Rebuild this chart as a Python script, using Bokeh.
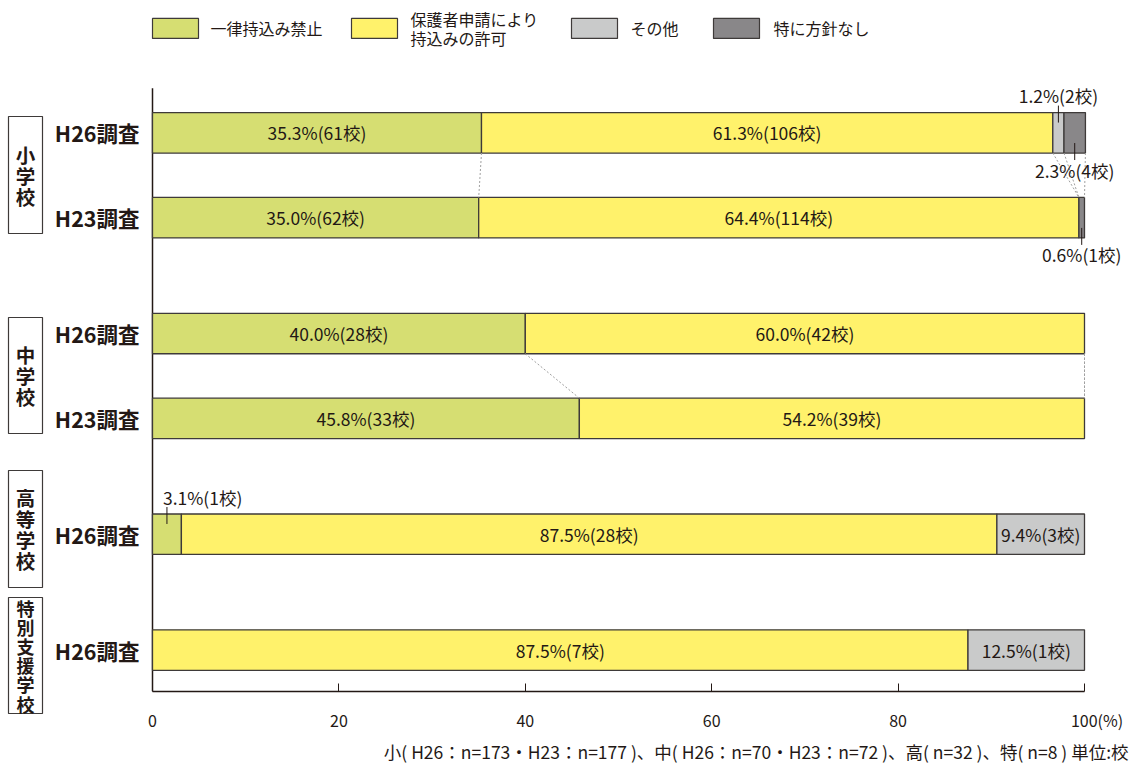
from bokeh.plotting import figure
from bokeh.layouts import row
from bokeh.models import Range1d, FixedTicker, ColumnDataSource, Title
from bokeh.core.properties import value
from bokeh.embed import file_html
from bokeh.resources import INLINE

# ---------------- data ----------------
series_names = ["一律持込み禁止", "保護者申請により\n持込みの許可", "その他", "特に方針なし"]
groups = ["小学校", "中学校", "高等学校", "特別支援学校"]
surveys = ["H26調査", "H23調査", "H26調査", "H23調査", "H26調査", "H26調査"]
row_group = [0, 0, 1, 1, 2, 3]

ban_pct = [35.3, 35.0, 40.0, 45.8, 3.1, 0.0]
permit_pct = [61.3, 64.4, 60.0, 54.2, 87.5, 87.5]
other_pct = [1.2, 0.0, 0.0, 0.0, 9.4, 12.5]
none_pct = [2.3, 0.6, 0.0, 0.0, 0.0, 0.0]

ban_n = [61, 62, 28, 33, 1, 0]
permit_n = [106, 114, 42, 39, 28, 7]
other_n = [2, 0, 0, 0, 3, 1]
none_n = [4, 1, 0, 0, 0, 0]

x_ticks = [0, 20, 40, 60, 80, 100]
x_unit = "(%)"
footnote = "小( H26：n=173・H23：n=177 )、中( H26：n=70・H23：n=72 )、高( n=32 )、特( n=8 ) 単位:校"

# ---------------- style / layout ----------------
FONT = "Noto Sans CJK JP"
INK = "#231815"
EDGE = "#3e3a39"
colors = ["#d6de72", "#fff26b", "#c9caca", "#898789"]

W, H = 1132, 765
LW = 45                         # width of the left strip holding the school-type boxes
L, T, B = 152, 88, 692          # axis origin / top of axis line / x-axis line (pixels)
X100 = 1084                     # pixel of 100 %
PXU = (X100 - L) / 100.0


def px(xp):
    return (xp - L) / PXU


# row centres (pixel == data y thanks to the flipped y range)
row_y = []
y = 132.5
for i in range(len(surveys)):
    if i > 0:
        y += 85.0 if row_group[i] == row_group[i - 1] else 116.0
    row_y.append(y)
BAR_H = 40.5
LABEL_FS = "17.5px"

# ---------- left strip: school-type boxes ----------
pg = figure(width=LW, height=H, x_range=Range1d(0, LW), y_range=Range1d(H, 0),
            min_border=0, output_backend="svg", toolbar_location=None, title=None)
pg.axis.visible = False
pg.grid.visible = False
pg.outline_line_color = None
pg.background_fill_color = "white"
pg.border_fill_color = "white"

gboxes = [(116, 233), (317, 433), (470, 587), (597, 713)]
pg.quad(left=[8] * 4, right=[42] * 4, top=[b[0] for b in gboxes],
        bottom=[b[1] for b in gboxes], fill_color="white", line_color=EDGE, line_width=1.2)
gc = dict(x=[], y=[], text=[], fs=[])
for g, (top, bot) in enumerate(gboxes):
    chars = list(groups[g])
    step = 21.0 if len(chars) <= 4 else 19.2
    fs = "19.5px" if len(chars) <= 4 else "18px"
    c = (top + bot) / 2
    for j, ch in enumerate(chars):
        gc["x"].append(25)
        gc["y"].append(c + (j - (len(chars) - 1) / 2) * step)
        gc["text"].append(ch)
        gc["fs"].append(fs)
pg.text(x="x", y="y", text="text", text_font_size="fs", source=ColumnDataSource(gc),
        text_font=value(FONT), text_font_style="bold", text_color=INK,
        text_align="center", text_baseline="middle")

# ---------- main chart ----------
p = figure(width=W - LW, height=H, x_range=Range1d(px(LW), px(W)), y_range=Range1d(B, 0),
           min_border_left=0, min_border_right=0, min_border_top=0,
           min_border_bottom=H - B, output_backend="svg", toolbar_location=None,
           title=None)
p.outline_line_color = None
p.xgrid.visible = False
p.ygrid.visible = False
p.yaxis.visible = False
p.background_fill_color = "white"
p.border_fill_color = "white"

# keep each plot's own frame (do not align frames across the row)
for f in (pg, p):
    if "frame_align" in f.properties():
        f.frame_align = False

xa = p.xaxis[0]
xa.bounds = (0, 100)
xa.ticker = FixedTicker(ticks=x_ticks)
xa.major_label_overrides = {100: "\u00a0" * 7 + "100" + x_unit}
xa.major_tick_in = 8
xa.major_tick_out = 0
xa.minor_tick_line_color = None
xa.axis_line_color = INK
xa.axis_line_width = 1.5
xa.major_tick_line_color = INK
xa.major_tick_line_width = 1
xa.major_label_text_font = FONT
xa.major_label_text_font_size = "16px"
xa.major_label_text_color = INK
xa.major_label_standoff = 16

# vertical axis line
p.segment(x0=[0], y0=[T], x1=[0], y1=[B], line_color=INK, line_width=1.5)

# row labels
p.text(x=[px(139)] * len(surveys), y=row_y, text=surveys, text_font=value(FONT),
       text_font_size=value("21.5px"), text_font_style="bold", text_color=INK,
       text_align="right", text_baseline="middle")

# stacked bars
pcts = [ban_pct, permit_pct, other_pct, none_pct]
counts = [ban_n, permit_n, other_n, none_n]
cum = [0.0] * len(surveys)
bounds = [[0.0] * len(surveys)]
inside = dict(x=[], y=[], text=[])
outside = []
for s in range(4):
    d = dict(y=[], left=[], right=[])
    for i in range(len(surveys)):
        v = pcts[s][i]
        left, right = cum[i], cum[i] + v
        if v > 0:
            d["y"].append(row_y[i])
            d["left"].append(left)
            d["right"].append(right)
            txt = f"{v:.1f}%({counts[s][i]}校)"
            if v >= 5:
                inside["x"].append((left + right) / 2)
                inside["y"].append(row_y[i])
                inside["text"].append(txt)
            else:
                outside.append((s, i, (left + right) / 2, txt))
        cum[i] = right
    bounds.append(list(cum))
    p.hbar(y="y", left="left", right="right", height=BAR_H, fill_color=colors[s],
           line_color=EDGE, line_width=1.3, source=ColumnDataSource(d))

p.text(x="x", y="y", text="text", source=ColumnDataSource(inside),
       text_font=value(FONT), text_font_size=value(LABEL_FS), text_color=INK,
       text_align="center", text_baseline="middle")

# dotted connectors between H26 and H23 of the same school type
cx0, cy0, cx1, cy1 = [], [], [], []
for i in range(len(surveys) - 1):
    if row_group[i] == row_group[i + 1]:
        for k in range(1, 5):
            cx0.append(bounds[k][i]); cy0.append(row_y[i] + BAR_H / 2)
            cx1.append(bounds[k][i + 1]); cy1.append(row_y[i + 1] - BAR_H / 2)
p.segment(x0=cx0, y0=cy0, x1=cx1, y1=cy1, line_color="#a0a0a0", line_width=1,
          line_dash="2 2")

# small-segment labels with leader lines
lx, ly0, ly1 = [], [], []
oc = dict(x=[], y=[], text=[])
ol = dict(x=[], y=[], text=[])
for s, i, xm, txt in outside:
    if s == 3:
        edge = row_y[i] + BAR_H / 2
        ly0.append(edge - 10); ly1.append(edge + 7)
        ty = edge + 17
    else:
        edge = row_y[i] - BAR_H / 2
        ly0.append(edge + 10); ly1.append(edge - 7)
        ty = edge - 17
    lx.append(xm)
    if xm < 5:
        ol["x"].append(xm - 4 / PXU); ol["y"].append(ty); ol["text"].append(txt)
    else:
        oc["x"].append(xm); oc["y"].append(ty); oc["text"].append(txt)
p.segment(x0=lx, y0=ly0, x1=lx, y1=ly1, line_color=INK, line_width=1)
p.text(x="x", y="y", text="text", source=ColumnDataSource(oc), text_font=value(FONT),
       text_font_size=value(LABEL_FS), text_color=INK, text_align="center",
       text_baseline="middle")
p.text(x="x", y="y", text="text", source=ColumnDataSource(ol), text_font=value(FONT),
       text_font_size=value(LABEL_FS), text_color=INK, text_align="left",
       text_baseline="middle")

# legend
leg_boxes = [152, 351, 571, 713]
leg_text_x = [210, 410, 630, 773]
p.quad(left=[px(v) for v in leg_boxes], right=[px(v + 46) for v in leg_boxes],
       top=[18] * 4, bottom=[38] * 4, fill_color=colors, line_color=EDGE, line_width=1.2)
lt = dict(x=[], y=[], text=[])
for k in range(4):
    lines = series_names[k].split("\n")
    for j, ln in enumerate(lines):
        lt["x"].append(px(leg_text_x[k]))
        lt["y"].append(28 + (j - (len(lines) - 1) / 2) * 19)
        lt["text"].append(ln)
p.text(x="x", y="y", text="text", source=ColumnDataSource(lt), text_font=value(FONT),
       text_font_size=value("16px"), text_color=INK, text_align="left",
       text_baseline="middle")

# footnote
p.add_layout(Title(text=footnote, align="right", offset=4, text_font=FONT,
                   text_font_size="17.5px", text_font_style="normal", text_color=INK,
                   standoff=4), "below")

layout = row(pg, p, spacing=0)
open("out.html", "w").write(file_html(layout, INLINE))
